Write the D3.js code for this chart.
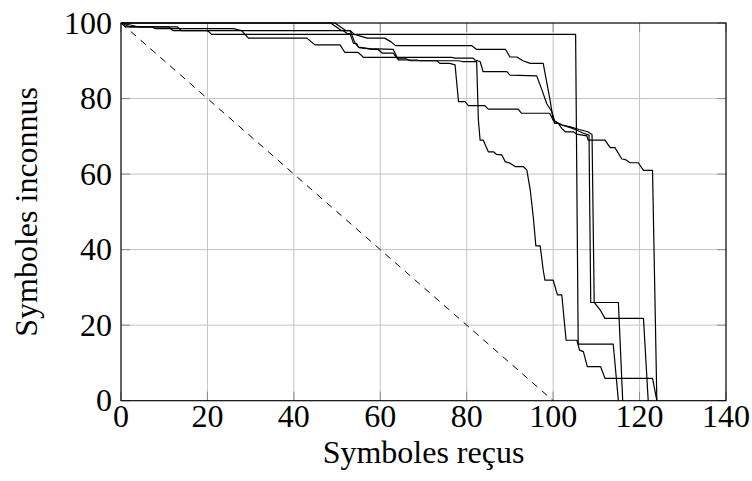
<!DOCTYPE html>
<html>
<head>
<meta charset="utf-8">
<script src="https://cdn.jsdelivr.net/npm/d3@7"></script>
<style>
  body { margin: 0; background: #fff; }
  text { font-family: "Liberation Serif", "Times New Roman", serif; fill: #000; }
</style>
</head>
<body>
<script>
// ticks
const xTicks = [0, 20, 40, 60, 80, 100, 120, 140];
const yTicks = [0, 20, 40, 60, 80, 100];

// reference diagonal (dashed)
const diagonal = [[0, 100], [100, 0]];

// decoding curves: [symbols received, unknown symbols]
const curveA = [[0,100],[2,99],[11,99],[12,98],[20,98],[21,97],[105.2,97],[105.8,15],[113.9,15],[115.1,0]];

const curveB = [[0,100],[48.5,100],[51,98],[53,98],[54,97],[57,96],[61,96],[62.5,95],[63.5,94],
  [81.2,94],[82.3,93],[89,93],[90,91],[91.6,91],[93,90],[94.7,89.3],[97.7,89.3],[99.3,79.5],
  [100,74.4],[100.4,73.4],[101.2,73.4],[102,72.1],[102.8,71.2],[104.7,71.2],[105.4,70.6],
  [107.8,70.1],[108.1,69],[112,69],[113.2,67],[114.3,67],[115.9,64],[116.6,63.9],[117.8,63],
  [119.7,63],[120.9,61],[123,61],[124,0]];

const curveC = [[0,100],[4,99],[13,99],[14,98],[51.4,98],[52.3,97.2],[53,97.2],[53.8,94.6],
  [54.5,94.6],[55,93.5],[57.5,93.2],[63,93],[64.2,90.2],[68.4,90.2],[69.2,90],[73.1,90],
  [73.8,89.3],[76.1,89.3],[77.3,88.9],[78.1,79.2],[79.6,79.2],[80.4,78.1],[84.2,78.1],
  [85,77.2],[91.9,77.2],[92.7,76.1],[99.2,76.1],[100,74.3],[101,73.6],[102.5,72.8],[104,72.3],
  [105.5,71.6],[107,70.8],[108.3,70.3],[108.7,26],[115.1,26],[116.1,0]];

const curveD = [[0,100],[49.5,100],[52,98],[53,98],[54.2,94.6],[55,93.6],[58,93],[59.5,93],
  [60.5,92],[63,92],[64,90.5],[66,90.5],[67,90],[78,90],[79,89.8],[82.3,89.8],[82.7,74.3],
  [83.1,69],[83.8,69],[85,65.9],[86.2,65.9],[86.9,65.2],[88.1,65.1],[88.9,63.3],[90,62.9],
  [91.2,62],[93.1,62],[93.9,61.1],[94.7,55.8],[95.4,48.7],[96,41],[97,41],[97.7,34.6],
  [98.1,31.9],[100,31.9],[101,28],[102,28],[103,16],[105.5,16],[106.1,13.4],[107,13],
  [107.9,9],[111,9],[112,5.9],[123,5.9],[124,0]];

const curveE = [[0,100],[1,99],[7,99],[8,98.5],[26,98.5],[27.9,98],[29.5,96],[43,96],[44.9,94.2],
  [50.7,94.2],[51.8,92.2],[54.9,92.2],[56.1,90.9],[76.5,90.9],[77.3,90.7],[81.5,90.7],
  [81.9,90.2],[83.1,89.8],[83.8,87.1],[89.3,87.1],[90,86.2],[96.2,86],[97.4,82.3],[98.5,78.7],
  [99.7,76.5],[100.4,73.9],[102,73],[104,72.5],[106,71.8],[108,71.2],[109,70.5],[109.5,26],
  [110.9,24],[112,21.8],[120.9,21.8],[122,0]];

const curves = [curveA, curveB, curveC, curveD, curveE];

const width = 752, height = 481;
const plotLeft = 121, plotRight = 726, plotTop = 23, plotBottom = 400.7;
const fontSize = 32;

const svg = d3.select("body").append("svg")
  .attr("width", width)
  .attr("height", height);

const x = d3.scaleLinear().domain([0, 140]).range([plotLeft, plotRight]);
const y = d3.scaleLinear().domain([0, 100]).range([plotBottom, plotTop]);

// grid
svg.append("g").selectAll("line").data(xTicks).join("line")
  .attr("x1", d => x(d)).attr("x2", d => x(d))
  .attr("y1", plotTop).attr("y2", plotBottom)
  .attr("stroke", "#c4c4c4").attr("stroke-width", 1);
svg.append("g").selectAll("line").data(yTicks).join("line")
  .attr("x1", plotLeft).attr("x2", plotRight)
  .attr("y1", d => y(d)).attr("y2", d => y(d))
  .attr("stroke", "#c4c4c4").attr("stroke-width", 1);

// inner ticks on all four sides
const tl = 9;
const tickG = svg.append("g").attr("stroke", "#8a8a8a").attr("stroke-width", 1);
xTicks.forEach(d => {
  tickG.append("line").attr("x1", x(d)).attr("x2", x(d)).attr("y1", plotBottom).attr("y2", plotBottom - tl);
  tickG.append("line").attr("x1", x(d)).attr("x2", x(d)).attr("y1", plotTop).attr("y2", plotTop + tl);
});
yTicks.forEach(d => {
  tickG.append("line").attr("x1", plotLeft).attr("x2", plotLeft + tl).attr("y1", y(d)).attr("y2", y(d));
  tickG.append("line").attr("x1", plotRight).attr("x2", plotRight - tl).attr("y1", y(d)).attr("y2", y(d));
});

const line = d3.line().x(d => x(d[0])).y(d => y(d[1]));

// dashed diagonal
svg.append("path")
  .attr("d", line(diagonal))
  .attr("fill", "none")
  .attr("stroke", "#000")
  .attr("stroke-width", 1)
  .attr("stroke-dasharray", "7,6");

// curves
svg.append("g").selectAll("path").data(curves).join("path")
  .attr("d", line)
  .attr("fill", "none")
  .attr("stroke", "#000")
  .attr("stroke-width", 1.2)
  .attr("stroke-linejoin", "round");

// frame
svg.append("rect")
  .attr("x", plotLeft).attr("y", plotTop)
  .attr("width", plotRight - plotLeft).attr("height", plotBottom - plotTop)
  .attr("fill", "none").attr("stroke", "#000").attr("stroke-width", 1.1);

// tick labels
svg.append("g").selectAll("text").data(xTicks).join("text")
  .attr("x", d => x(d)).attr("y", 427)
  .attr("text-anchor", "middle")
  .attr("font-size", fontSize)
  .text(d => d);
svg.append("g").selectAll("text").data(yTicks).join("text")
  .attr("x", plotLeft - 9).attr("y", d => y(d) + 10.5)
  .attr("text-anchor", "end")
  .attr("font-size", fontSize)
  .text(d => d);

// axis labels
svg.append("text")
  .attr("x", (plotLeft + plotRight) / 2).attr("y", 463)
  .attr("text-anchor", "middle")
  .attr("font-size", fontSize)
  .text("Symboles reçus");
svg.append("text")
  .attr("transform", `translate(37,${(plotTop + plotBottom) / 2}) rotate(-90)`)
  .attr("text-anchor", "middle")
  .attr("font-size", fontSize)
  .text("Symboles inconnus");
</script>
</body>
</html>
